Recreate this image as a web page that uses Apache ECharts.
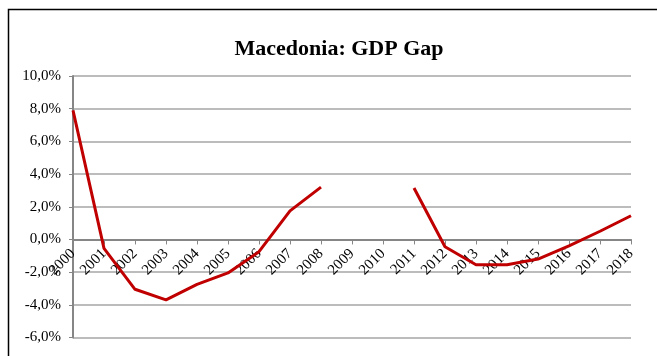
<!DOCTYPE html>
<html>
<head>
<meta charset="utf-8">
<script src="https://cdn.jsdelivr.net/npm/echarts@6/dist/echarts.min.js"></script>
<style>html,body{margin:0;padding:0;background:#fff;}#c{width:657px;height:356px;}</style>
</head>
<body>
<div id="c"></div>
<script>
const years = ['2000','2001','2002','2003','2004','2005','2006','2007','2008','2009','2010','2011','2012','2013','2014','2015','2016','2017','2018'];
const gdpGap = [7.9, -0.55, -3.05, -3.7, -2.75, -2.05, -0.75, 1.75, 3.2, null, null, 3.15, -0.45, -1.55, -1.55, -1.2, -0.4, 0.5, 1.45];
const yTicks = { min: -6, max: 10, step: 2 };
const titleText = 'Macedonia: GDP Gap';

const serif = '"Liberation Serif", "Times New Roman", serif';
const W = 657, H = 356;
const gridBox = { left: 73, right: 26, top: 76, bottom: 18.5 };
const plotH = H - gridBox.top - gridBox.bottom;
// lift the category axis from the grid bottom to the y = 0 line
const zeroOffset = -((0 - yTicks.min) / (yTicks.max - yTicks.min)) * plotH;

const chart = echarts.init(document.getElementById('c'), null, { renderer: 'canvas' });
chart.setOption({
  animation: false,
  backgroundColor: '#fff',
  graphic: [{
    type: 'rect', left: 6, top: 7,
    shape: { width: 700, height: 400 },
    style: { fill: 'none', stroke: '#000', lineWidth: 1.5 },
    silent: true
  }],
  title: {
    text: titleText,
    left: 334, top: 33, textAlign: 'center',
    textStyle: { fontFamily: serif, fontSize: 22, fontWeight: 'bold', color: '#000' }
  },
  grid: Object.assign({ containLabel: false, outerBoundsMode: 'none' }, gridBox),
  xAxis: {
    type: 'category', data: years, boundaryGap: false,
    offset: zeroOffset,
    axisLine: { show: true, onZero: false, lineStyle: { color: '#868686', width: 2 } },
    axisTick: { show: true, inside: false, length: 5, lineStyle: { color: '#868686', width: 1 } },
    axisLabel: { rotate: 45, margin: 12, fontFamily: serif, fontSize: 15, color: '#000', interval: 0 },
    splitLine: { show: false }
  },
  yAxis: {
    type: 'value', min: yTicks.min, max: yTicks.max, interval: yTicks.step,
    axisLine: { show: true, lineStyle: { color: '#868686', width: 2 } },
    axisTick: { show: true, length: 4, lineStyle: { color: '#868686', width: 1 } },
    axisLabel: {
      margin: 12, fontFamily: serif, fontSize: 15, color: '#000',
      formatter: v => v.toFixed(1).replace('.', ',') + '%'
    },
    splitLine: { show: true, lineStyle: { color: '#a6a6a6', width: 1.5 } }
  },
  series: [{
    type: 'line', data: gdpGap,
    symbol: 'none', connectNulls: false,
    lineStyle: { color: '#C00000', width: 3 },
    z: 5
  }]
});
</script>
</body>
</html>
